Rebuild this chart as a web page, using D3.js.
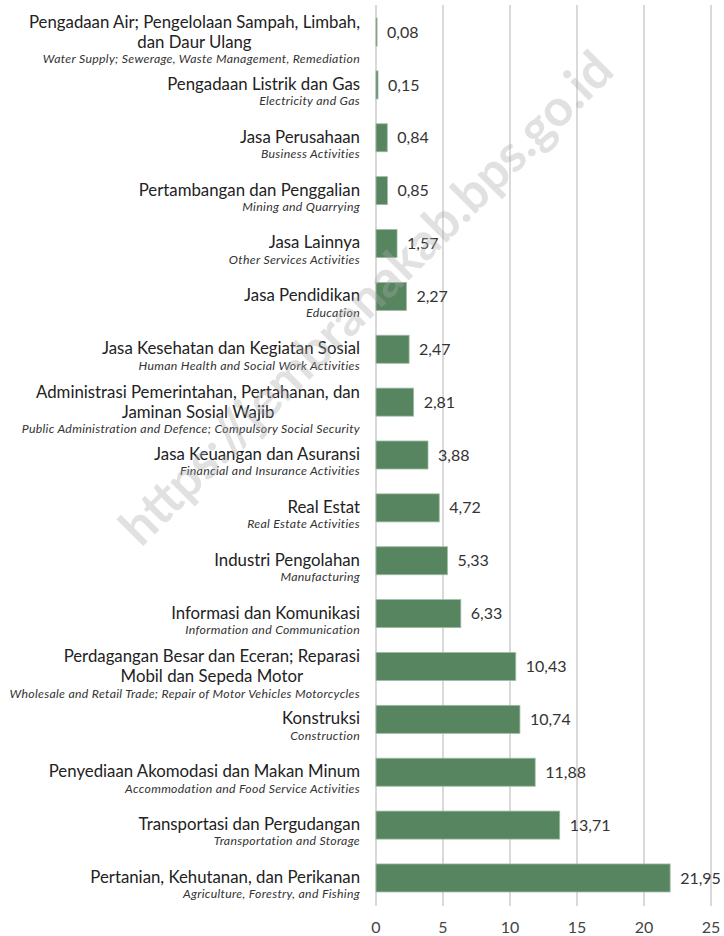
<!DOCTYPE html>
<html>
<head>
<meta charset="utf-8">
<script src="https://cdn.jsdelivr.net/npm/d3@7"></script>
<style>
  body { margin: 0; background: #fff; }
  text { font-family: Lato, "Open Sans", sans-serif; }
</style>
</head>
<body>
<script>
// sectors, top to bottom
var sectors = [
  'Pengadaan Air; Pengelolaan Sampah, Limbah,|dan Daur Ulang',
  'Pengadaan Listrik dan Gas',
  'Jasa Perusahaan',
  'Pertambangan dan Penggalian',
  'Jasa Lainnya',
  'Jasa Pendidikan',
  'Jasa Kesehatan dan Kegiatan Sosial',
  'Administrasi Pemerintahan, Pertahanan, dan|Jaminan Sosial Wajib',
  'Jasa Keuangan dan Asuransi',
  'Real Estat',
  'Industri Pengolahan',
  'Informasi dan Komunikasi',
  'Perdagangan Besar dan Eceran; Reparasi|Mobil dan Sepeda Motor',
  'Konstruksi',
  'Penyediaan Akomodasi dan Makan Minum',
  'Transportasi dan Pergudangan',
  'Pertanian, Kehutanan, dan Perikanan'
];
var sectorsEn = [
  'Water Supply; Sewerage, Waste Management, Remediation',
  'Electricity and Gas',
  'Business Activities',
  'Mining and Quarrying',
  'Other Services Activities',
  'Education',
  'Human Health and Social Work Activities',
  'Public Administration and Defence; Compulsory Social Security',
  'Financial and Insurance Activities',
  'Real Estate Activities',
  'Manufacturing',
  'Information and Communication',
  'Wholesale and Retail Trade; Repair of Motor Vehicles Motorcycles',
  'Construction',
  'Accommodation and Food Service Activities',
  'Transportation and Storage',
  'Agriculture, Forestry, and Fishing'
];
var shares = [0.08, 0.15, 0.84, 0.85, 1.57, 2.27, 2.47, 2.81, 3.88, 4.72, 5.33, 6.33, 10.43, 10.74, 11.88, 13.71, 21.95];
var xTicks = [0, 5, 10, 15, 20, 25];

var W = 724, H = 936;
var svg = d3.select('body').append('svg').attr('width', W).attr('height', H);

var x = d3.scaleLinear().domain([0, 25]).range([376, 711]);
var y = d3.scaleBand().domain(d3.range(sectors.length)).range([5.6, 904.4])
    .paddingInner(0.47).paddingOuter(0.235);

// grid
svg.append('g').selectAll('line').data(xTicks).enter().append('line')
    .attr('x1', function(d){ return x(d); }).attr('x2', function(d){ return x(d); })
    .attr('y1', 5).attr('y2', 906)
    .attr('stroke', '#d9d9d9').attr('stroke-width', 2);

// bars
svg.append('g').selectAll('rect').data(shares).enter().append('rect')
    .attr('x', x(0))
    .attr('y', function(d, i){ return y(i); })
    .attr('width', function(d){ return x(d) - x(0); })
    .attr('height', y.bandwidth())
    .attr('fill', '#57855f')
    .attr('stroke', '#9fbba5').attr('stroke-width', 0.8);

// value labels
svg.append('g').selectAll('text').data(shares).enter().append('text')
    .attr('x', function(d){ return x(d) + 10; })
    .attr('y', function(d, i){ return y(i) + y.bandwidth() / 2; })
    .attr('dy', '0.35em')
    .attr('font-size', 16).attr('fill', '#333')
    .text(function(d){ return d.toFixed(2).replace('.', ','); });

// category labels (second line centred under the first, like the source)
var lab = svg.append('g').selectAll('g').data(sectors).enter().append('g')
    .attr('transform', function(d, i){ return 'translate(360,' + (y(i) + y.bandwidth() / 2) + ')'; });

lab.each(function(d, i){
  var g = d3.select(this), lines = d.split('|');
  var y0 = lines.length > 1 ? -10 : -1;
  var first = g.append('text').attr('text-anchor', 'end').attr('y', y0).attr('dy', '0.35em')
      .attr('font-size', 16.8).attr('fill', '#222').text(lines[0]);
  if (lines.length > 1) {
    var w = first.node().getComputedTextLength();
    g.append('text').attr('text-anchor', 'middle').attr('x', -w / 2).attr('y', y0 + 20).attr('dy', '0.35em')
      .attr('font-size', 16.8).attr('fill', '#222').text(lines[1]);
  }
  g.append('text').attr('text-anchor', 'end').attr('y', y0 + (lines.length - 1) * 20 + 17).attr('dy', '0.35em')
    .attr('font-size', 12.3).attr('letter-spacing', 0.3).attr('font-style', 'italic').attr('fill', '#333')
    .text(sectorsEn[i]);
});

// x tick labels
svg.append('g').selectAll('text').data(xTicks).enter().append('text')
    .attr('x', function(d){ return x(d); }).attr('y', 927).attr('dy', '0.35em')
    .attr('text-anchor', 'middle').attr('font-size', 16).attr('fill', '#444')
    .text(function(d){ return d; });

// watermark
svg.append('text')
    .attr('transform', 'translate(366,298) rotate(-45)')
    .attr('text-anchor', 'middle').attr('dy', '0.35em')
    .attr('font-family', 'Arial, "Liberation Sans", sans-serif').attr('font-weight', 'bold')
    .attr('font-size', 51).attr('fill', 'rgba(170,170,170,0.35)')
    .text('https://jembranakab.bps.go.id');
</script>
</body>
</html>
